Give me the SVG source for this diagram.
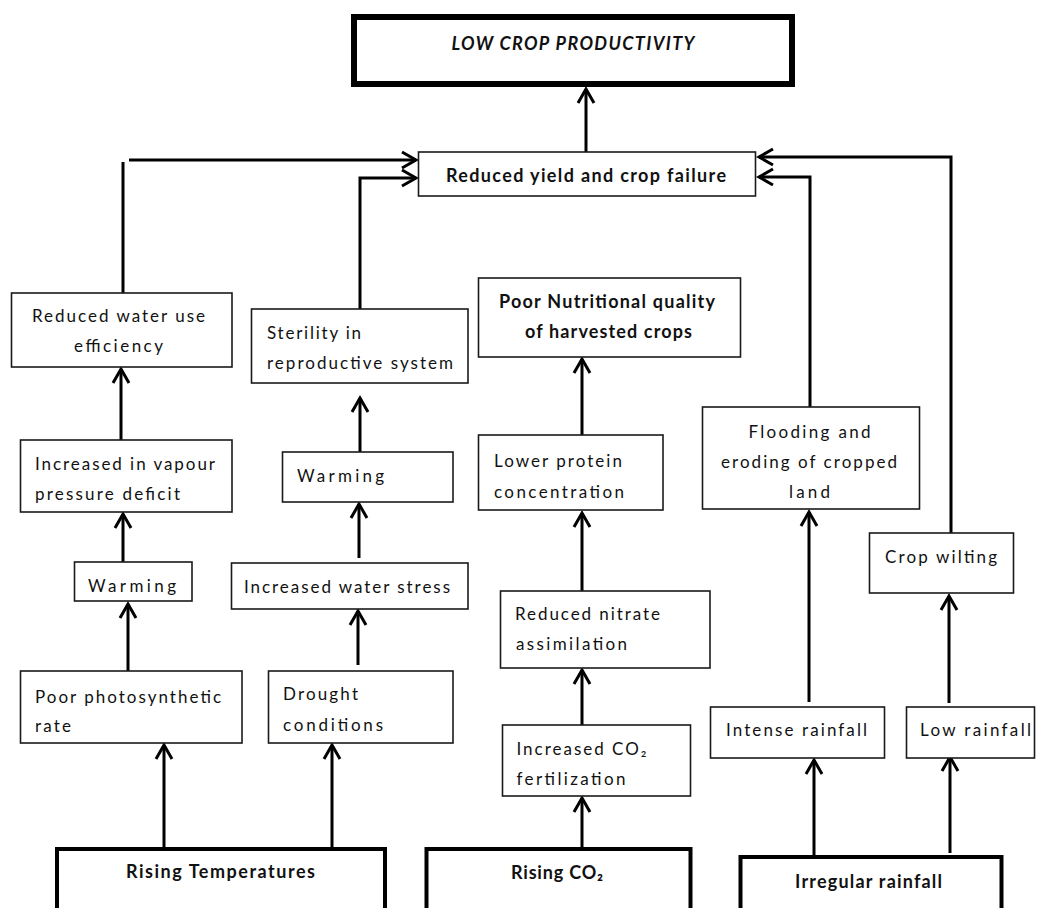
<svg xmlns="http://www.w3.org/2000/svg" width="1037" height="908" viewBox="0 0 1037 908">
<style>
.box{fill:#fff;stroke:#1a1a1a;stroke-width:1.6}
.thick{fill:#fff;stroke:#000;stroke-width:4}
.topb{fill:#fff;stroke:#000;stroke-width:6}
text{font-family:Lato,"Open Sans","Noto Sans",sans-serif;font-size:17px;fill:#111}
.b{font-weight:bold;font-size:18px}
.c{text-anchor:middle}
.hd{font-weight:bold;font-style:italic;font-size:18px}
#connectors path{fill:none;stroke:#000;stroke-width:3;marker-end:url(#ah)}
</style>
<defs>
<marker id="ah" viewBox="-16 -10 20 20" refX="0" refY="0" markerWidth="20" markerHeight="20" markerUnits="userSpaceOnUse" orient="auto" overflow="visible">
<path d="M-14,-8 L0,0 L-14,8" fill="none" stroke="#000" stroke-width="3"/>
</marker>
</defs>
<rect width="1037" height="908" fill="#fff"/>

<g id="connectors">
<path d="M586,152 V89"/>
<path d="M123,293 V162 M129,160 H416"/>
<path d="M360,309 V178 H416"/>
<path d="M121,440 V369"/>
<path d="M123,562 V514"/>
<path d="M128,671 V604"/>
<path d="M360,452 V398"/>
<path d="M359,558 V504"/>
<path d="M358,665 V611"/>
<path d="M164,847 V745"/>
<path d="M332,847 V745"/>
<path d="M582,435 V359"/>
<path d="M582,591 V513"/>
<path d="M582,725 V670"/>
<path d="M582,847 V798"/>
<path d="M810,409 V177 H759"/>
<path d="M951,533 V157 H759"/>
<path d="M809,702 V512"/>
<path d="M949,703 V596"/>
<path d="M814,856 V760"/>
<path d="M950,853 V757"/>
</g>

<g id="n-top"><rect class="topb" x="354" y="17" width="438" height="67"/>
<text class="hd c" x="573" y="50" textLength="243">LOW CROP PRODUCTIVITY</text></g>

<g id="n-yield"><rect class="box" x="418.5" y="152" width="337" height="44"/>
<text class="b c" x="586" y="182" textLength="280">Reduced yield and crop failure</text></g>

<g id="n-rwue"><rect class="box" x="11.5" y="293" width="220.5" height="74"/>
<text class="c" x="118.5" y="322" textLength="173">Reduced water use</text>
<text class="c" x="118.5" y="352" textLength="89">efficiency</text></g>

<g id="n-sterility"><rect class="box" x="251.5" y="309" width="216.5" height="74"/>
<text x="267" y="339" textLength="94">Sterility in</text>
<text x="267" y="369" textLength="186">reproductive system</text></g>

<g id="n-pnq"><rect class="box" x="478.5" y="278" width="262" height="79"/>
<text class="b c" x="607" y="308" textLength="216">Poor Nutritional quality</text>
<text class="b c" x="608.5" y="338" textLength="167">of harvested crops</text></g>

<g id="n-ivpd"><rect class="box" x="20.5" y="440" width="211.5" height="72"/>
<text x="35" y="470" textLength="180">Increased in vapour</text>
<text x="35" y="500" textLength="145">pressure deficit</text></g>

<g id="n-warm2"><rect class="box" x="282.5" y="452" width="170.5" height="50"/>
<text x="297" y="482" textLength="87">Warming</text></g>

<g id="n-lpc"><rect class="box" x="478.5" y="435" width="184.5" height="75"/>
<text x="494" y="467" textLength="128">Lower protein</text>
<text x="494" y="498" textLength="130">concentration</text></g>

<g id="n-flood"><rect class="box" x="702.5" y="407" width="217" height="102"/>
<text class="c" x="809.5" y="438" textLength="122">Flooding and</text>
<text class="c" x="809" y="468" textLength="176">eroding of cropped</text>
<text class="c" x="809.5" y="498" textLength="41">land</text></g>

<g id="n-warm1"><rect class="box" x="74.5" y="562" width="117.5" height="39"/>
<text x="88" y="592" textLength="88">Warming</text></g>

<g id="n-iws"><rect class="box" x="231.5" y="563" width="236.5" height="46"/>
<text x="244" y="593" textLength="206">Increased water stress</text></g>

<g id="n-rna"><rect class="box" x="500.5" y="591" width="209.5" height="77"/>
<text x="515" y="620" textLength="145">Reduced nitrate</text>
<text x="516" y="650" textLength="111">assimilation</text></g>

<g id="n-wilt"><rect class="box" x="869.5" y="533" width="144" height="60"/>
<text x="885" y="563" textLength="112">Crop wilting</text></g>

<g id="n-pps"><rect class="box" x="20.5" y="671" width="221.5" height="72"/>
<text x="35" y="703" textLength="186">Poor photosynthetic</text>
<text x="35" y="732" textLength="36">rate</text></g>

<g id="n-drought"><rect class="box" x="268.5" y="671" width="184.5" height="72"/>
<text x="283" y="700" textLength="75">Drought</text>
<text x="283" y="731" textLength="100">conditions</text></g>

<g id="n-ico2"><rect class="box" x="502.5" y="725" width="188" height="71"/>
<text x="516.5" y="755" textLength="130">Increased CO₂</text>
<text x="516.5" y="785" textLength="109">fertilization</text></g>

<g id="n-intense"><rect class="box" x="710.5" y="707" width="174" height="51"/>
<text x="726" y="736" textLength="141">Intense rainfall</text></g>

<g id="n-lowrain"><rect class="box" x="906.5" y="707" width="128" height="51"/>
<text x="920" y="736" textLength="111">Low rainfall</text></g>

<g id="n-risingT"><rect class="thick" x="57" y="849" width="328" height="80"/>
<text class="b c" x="220.5" y="878" textLength="189">Rising Temperatures</text></g>

<g id="n-risingCO2"><rect class="thick" x="426.5" y="849" width="264" height="80"/>
<text class="b c" x="557" y="879" textLength="92">Rising CO₂</text></g>

<g id="n-irregular"><rect class="thick" x="740.5" y="857" width="261" height="80"/>
<text class="b c" x="868.5" y="888" textLength="147">Irregular rainfall</text></g>
</svg>
